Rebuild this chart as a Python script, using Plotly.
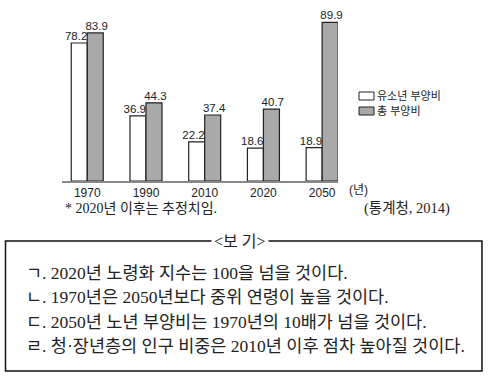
import plotly.graph_objects as go

years = ["1970", "1990", "2010", "2020", "2050"]
youth_ratio = [78.2, 36.9, 22.2, 18.6, 18.9]
total_ratio = [83.9, 44.3, 37.4, 40.7, 89.9]
series_names = ["유소년 부양비", "총 부양비"]
series_fill = ["white", "#a9a9a9"]
label_shift = [-0.19, 0.16]  # label offset from category centre (category units)

footnote = "* 2020년 이후는 추정치임."
source = "(통계청, 2014)"
box_title = "<보 기>"
box_lines = [
    "ㄱ. 2020년 노령화 지수는 100을 넘을 것이다.",
    "ㄴ. 1970년은 2050년보다 중위 연령이 높을 것이다.",
    "ㄷ. 2050년 노년 부양비는 1970년의 10배가 넘을 것이다.",
    "ㄹ. 청·장년층의 인구 비중은 2010년 이후 점차 높아질 것이다.",
]

W, H = 488, 377
L, R, T, B = 62, 338, 10, 181  # plot area in pixels

def px(x):
    return (x - L) / (R - L)

def py(y):
    return (B - y) / (B - T)

sans = "Liberation Sans, Noto Sans CJK KR"
serif = "Liberation Serif, Noto Sans CJK KR"

idx = list(range(len(years)))
fig = go.Figure()
for name, vals, fill in zip(series_names, [youth_ratio, total_ratio], series_fill):
    fig.add_trace(go.Bar(
        x=idx, y=vals, name=name, showlegend=False,
        marker=dict(color=fill, line=dict(color="#222", width=1.2)),
        hoverinfo="skip",
    ))
for vals, shift in zip([youth_ratio, total_ratio], label_shift):
    fig.add_trace(go.Scatter(
        x=[i + shift for i in idx], y=vals, mode="text",
        text=[f"{v:.1f}" for v in vals], textposition="top center",
        textfont=dict(family=sans, size=11.5, color="#222"),
        showlegend=False, cliponaxis=False, hoverinfo="skip",
    ))

fig.update_layout(
    width=W, height=H,
    margin=dict(l=L, r=W - R, t=T, b=H - B, pad=0),
    paper_bgcolor="white", plot_bgcolor="white",
    barmode="group", bargap=0.455, bargroupgap=0,
    xaxis=dict(range=[-0.43, 4.27], tickmode="array",
               tickvals=idx, ticktext=years,
               showline=True, linecolor="#888", linewidth=2,
               showgrid=False, zeroline=False, ticks="",
               tickfont=dict(family=sans, size=12, color="#222")),
    yaxis=dict(range=[0, 96.9], visible=False, showgrid=False),
)

ann = []
shapes = []
# manual legend
for i, (name, fill) in enumerate(zip(series_names, series_fill)):
    yc = 96 + i * 15
    shapes.append(dict(type="rect", xref="paper", yref="paper",
                       x0=px(359), x1=px(374), y0=py(yc - 4), y1=py(yc + 4),
                       fillcolor=fill, line=dict(color="#222", width=1)))
    ann.append(dict(text=name, x=px(375), y=py(yc), xref="paper", yref="paper",
                    xanchor="left", yanchor="middle", showarrow=False,
                    font=dict(family=sans, size=11, color="#222")))

ann.append(dict(text="(년)", x=px(347), y=py(190), xref="paper", yref="paper",
                xanchor="left", yanchor="middle", showarrow=False,
                font=dict(family=sans, size=12, color="#222")))
ann.append(dict(text=footnote, x=px(63), y=py(208), xref="paper", yref="paper",
                xanchor="left", yanchor="middle", showarrow=False,
                font=dict(family=serif, size=14, color="#222")))
ann.append(dict(text=source, x=px(452), y=py(208), xref="paper", yref="paper",
                xanchor="right", yanchor="middle", showarrow=False,
                font=dict(family=serif, size=14.5, color="#222")))
ann.append(dict(text=box_title, x=px(240), y=py(241), xref="paper", yref="paper",
                xanchor="center", yanchor="middle", showarrow=False,
                bgcolor="white", borderpad=2,
                font=dict(family=serif, size=16, color="#222")))
for i, line in enumerate(box_lines):
    ann.append(dict(text=line, x=px(24), y=py(273 + i * 24.3), xref="paper", yref="paper",
                    xanchor="left", yanchor="middle", showarrow=False,
                    font=dict(family=serif, size=17.5, color="#222")))

shapes.append(dict(type="rect", xref="paper", yref="paper",
                   x0=px(5.5), x1=px(482), y0=py(241), y1=py(371),
                   line=dict(color="#111", width=1.5), layer="below"))
fig.update_layout(annotations=ann, shapes=shapes)

fig.write_html("out.html", config={"displayModeBar": False},
               post_script="document.body.style.margin='0';")
